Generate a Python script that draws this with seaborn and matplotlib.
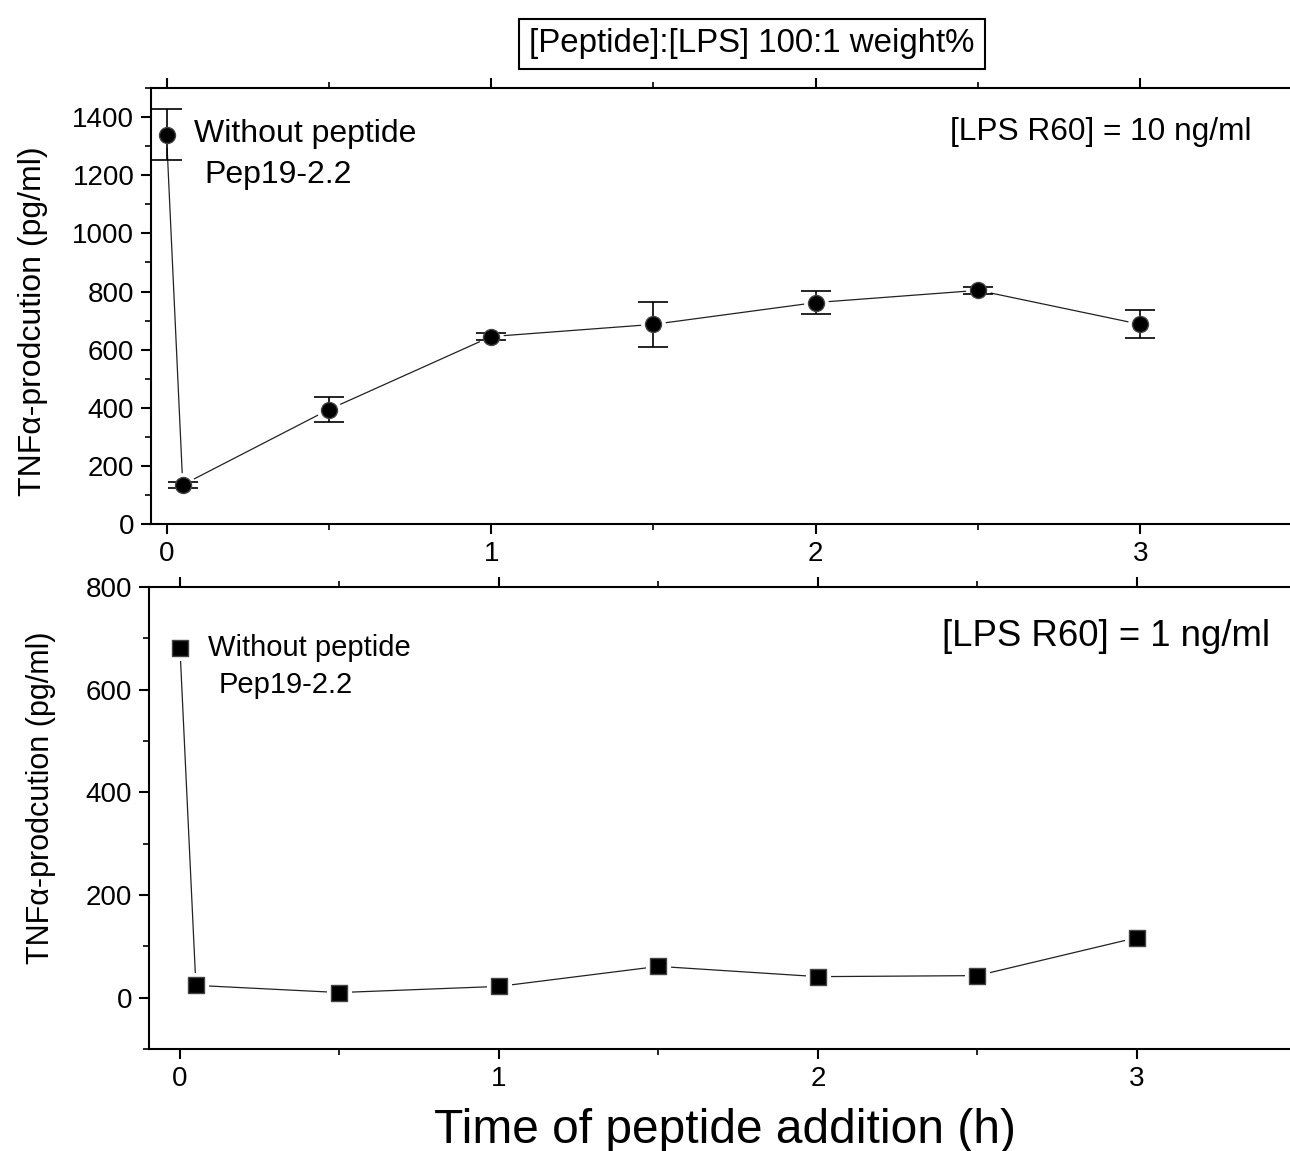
import matplotlib
matplotlib.use('Agg')
import matplotlib.pyplot as plt
import seaborn as sns
from matplotlib.ticker import MultipleLocator

# time of peptide addition (h)
time_h = [0, 0.05, 0.5, 1, 1.5, 2, 2.5, 3]

# [LPS R60] = 10 ng/ml (circles)
tnf_10ng = [1340, 135, 394, 645, 687, 762, 804, 687]
err_10ng = [88, 10, 42, 12, 78, 40, 12, 48]

# [LPS R60] = 1 ng/ml (squares)
tnf_1ng = [682, 24, 10, 22, 61, 41, 43, 117]

sns.set_theme(style='ticks')
plt.rcParams['font.family'] = ['Liberation Sans', 'DejaVu Sans']
plt.rcParams['axes.linewidth'] = 1.5
plt.rcParams['text.color'] = 'black'
plt.rcParams['axes.labelcolor'] = 'black'
plt.rcParams['xtick.color'] = 'black'
plt.rcParams['ytick.color'] = 'black'

fig = plt.figure(figsize=(12.9, 11.51), dpi=100)
ax1 = fig.add_axes([0.117, 0.5447, 0.883, 0.3788])
ax2 = fig.add_axes([0.1155, 0.0886, 0.8845, 0.4014])


def draw_series(ax, y, marker, yerr=None):
    # connecting line, with white halo so the line stops short of the markers
    sns.lineplot(x=time_h, y=y, ax=ax, color='#222222', linewidth=0.9,
                 marker=marker, markersize=17, markerfacecolor='white',
                 markeredgecolor='white', zorder=2)
    if yerr is not None:
        ax.errorbar(time_h, y, yerr=yerr, fmt='none', ecolor='black',
                    elinewidth=1.2, capsize=11, capthick=1.2, zorder=3)
    sns.scatterplot(x=time_h, y=y, ax=ax, marker=marker, s=11.5 ** 2,
                    color='black', edgecolor='#444444', linewidth=1,
                    zorder=4)


draw_series(ax1, tnf_10ng, 'o', err_10ng)
draw_series(ax2, tnf_1ng, 's')

ax1.set_xlim(-0.048, 3.461)
ax1.set_ylim(0, 1500)
ax1.yaxis.set_major_locator(MultipleLocator(200))
ax1.yaxis.set_minor_locator(MultipleLocator(100))

ax2.set_xlim(-0.097, 3.48)
ax2.set_ylim(-100, 800)
ax2.yaxis.set_major_locator(MultipleLocator(200))
ax2.yaxis.set_minor_locator(MultipleLocator(100))

for ax in (ax1, ax2):
    ax.xaxis.set_major_locator(MultipleLocator(1))
    ax.xaxis.set_minor_locator(MultipleLocator(0.5))
    ax.spines['right'].set_visible(False)
    for s in ('left', 'bottom', 'top'):
        ax.spines[s].set_color('black')
    ax.tick_params(which='major', direction='out', length=7, width=1.5,
                   labelsize=20, top=True, right=False, pad=5)
    ax.tick_params(which='minor', direction='out', length=4, width=1.2,
                   top=True, right=False)
    ax.set_xlabel('')

ax1.set_ylabel('TNFα-prodcution (pg/ml)', fontsize=23)
ax2.set_ylabel('TNFα-prodcution (pg/ml)', fontsize=22)
ax1.yaxis.set_label_coords(-0.090, 0.466)
ax2.yaxis.set_label_coords(-0.0815, 0.544)

# annotations, top panel
ax1.text(0.084, 1342, 'Without peptide', fontsize=23, va='center', ha='left')
ax1.text(0.118, 1200, 'Pep19-2.2', fontsize=23, va='center', ha='left')
ax1.text(2.414, 1349, '[LPS R60] = 10 ng/ml', fontsize=22.8, va='center', ha='left')

# annotations, bottom panel
ax2.text(0.088, 682, 'Without peptide', fontsize=21, va='center', ha='left')
ax2.text(0.122, 610, 'Pep19-2.2', fontsize=21, va='center', ha='left')
ax2.text(2.39, 704, '[LPS R60] = 1 ng/ml', fontsize=26.4, va='center', ha='left')

fig.text(0.583, 0.9618, '[Peptide]:[LPS] 100:1 weight%', fontsize=23.8,
         ha='center', va='center',
         bbox=dict(boxstyle='square,pad=0.3', facecolor='white',
                   edgecolor='black', linewidth=1.5))

fig.text(0.562, 0.007, 'Time of peptide addition (h)', fontsize=34.5,
         ha='center', va='baseline')

fig.savefig('out.png', dpi=100)
